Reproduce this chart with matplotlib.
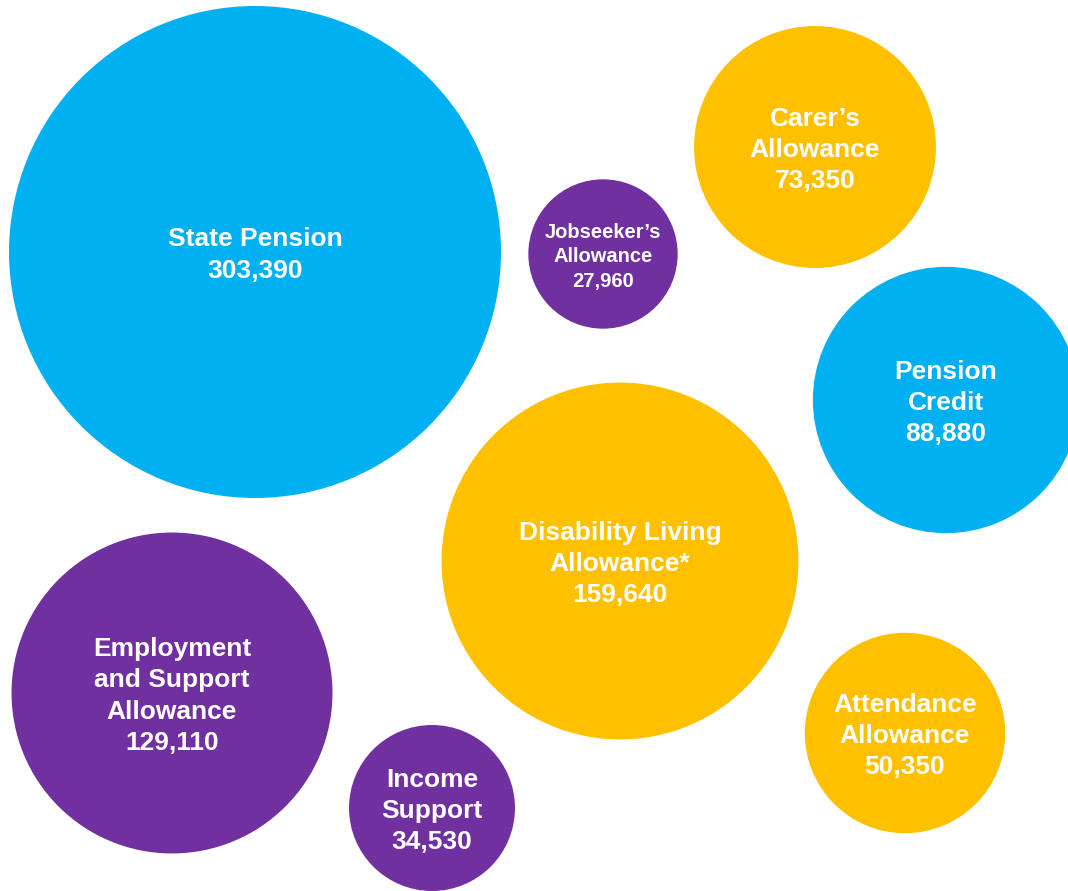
import numpy as np
import matplotlib
matplotlib.use('Agg')
import matplotlib.pyplot as plt
from matplotlib.patches import Circle

# benefit claimant counts
labels = ["State Pension", "Jobseeker\u2019s\nAllowance", "Carer\u2019s\nAllowance",
          "Pension\nCredit", "Disability Living\nAllowance*",
          "Employment\nand Support\nAllowance", "Income\nSupport",
          "Attendance\nAllowance"]
values = [303390, 27960, 73350, 88880, 159640, 129110, 34530, 50350]
groups = ["pension", "work", "carer", "pension", "carer", "work", "work", "carer"]

# layout (pixel centres of the bubbles)
centres = [(255, 252), (603, 254), (815, 147), (946, 400),
           (620, 561), (172, 693), (432, 808), (905, 733)]

colours = {"pension": "#00B0F0", "carer": "#FFC000", "work": "#7030A0"}
scale = 0.4466  # px radius per sqrt(value)

fig = plt.figure(figsize=(10.68, 8.91), dpi=100)
ax = fig.add_axes([0, 0, 1, 1])
ax.set_xlim(0, 1068)
ax.set_ylim(891, 0)
ax.set_aspect('equal')
ax.axis('off')

for lab, val, grp, (cx, cy) in zip(labels, values, groups, centres):
    r = scale * np.sqrt(val)
    ax.add_patch(Circle((cx, cy), r, facecolor=colours[grp], edgecolor='none'))
    if val < 30000:
        size, ls = 14.5, 1.36
    else:
        size, ls = 19, 1.37
    ax.text(cx, cy + 3, "{}\n{:,}".format(lab, val), ha='center', va='center',
            color='white', fontsize=size, fontweight='bold',
            family='Liberation Sans', linespacing=ls)

fig.savefig('out.png', dpi=100)
